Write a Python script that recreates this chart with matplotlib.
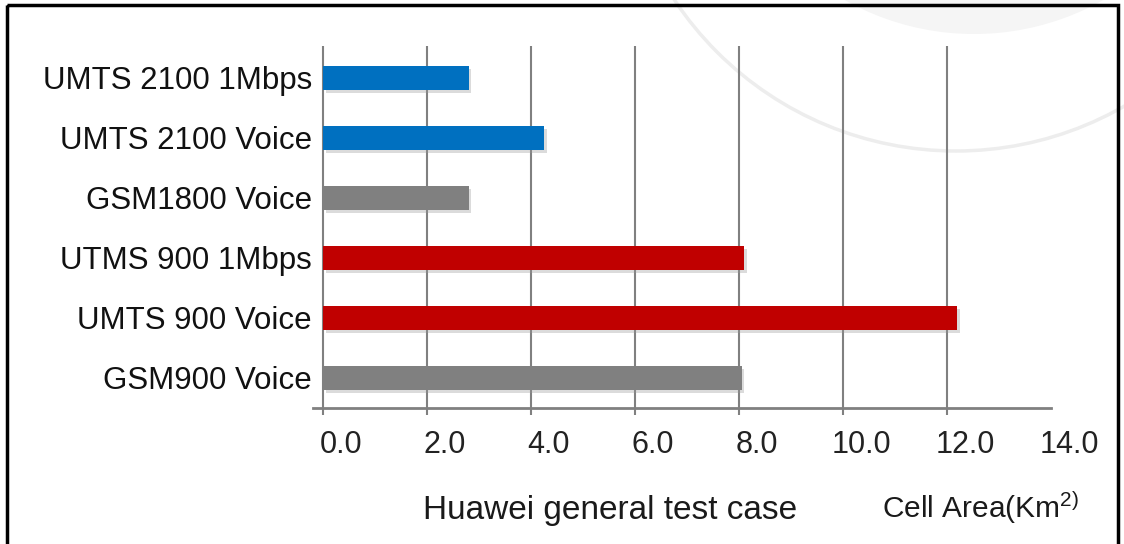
import matplotlib.pyplot as plt
import matplotlib.patheffects as pe
from matplotlib.patches import Circle, Rectangle
from matplotlib.transforms import ScaledTranslation
import numpy as np

plt.rcParams['font.family'] = ['Liberation Sans', 'DejaVu Sans']
plt.rcParams['mathtext.fontset'] = 'custom'
plt.rcParams['mathtext.rm'] = 'Liberation Sans'
plt.rcParams['mathtext.default'] = 'regular'

# Cell area per technology / service (km^2)
cases = ["UMTS 2100 1Mbps", "UMTS 2100 Voice", "GSM1800 Voice",
         "UTMS 900 1Mbps", "UMTS 900 Voice", "GSM900 Voice"]
cell_area = [2.8, 4.25, 2.8, 8.1, 12.2, 8.05]
bar_colors = ["#0070C0", "#0070C0", "#808080", "#C00000", "#C00000", "#808080"]
x_ticks = [0, 2, 4, 6, 8, 10, 12, 14]
x_labels = ["0.0", "2.0", "4.0", "6.0", "8.0", "10.0", "12.0", "14.0"]

W, H = 1124, 544
fig = plt.figure(figsize=(W / 100, H / 100), dpi=100)

# background layer in pixel coordinates: faint watermark circles + frame
bg = fig.add_axes([0, 0, 1, 1], zorder=0)
bg.set_xlim(0, W)
bg.set_ylim(H, 0)
bg.axis("off")
bg.add_patch(Circle((974, -229), 263, facecolor="#f5f5f5", edgecolor="none"))
bg.add_patch(Circle((956, -187), 338, facecolor="none", edgecolor="#ededed", lw=2.5))
bg.add_patch(Rectangle((7, 5), 1111, 560, facecolor="none", edgecolor="black",
                       lw=2.5, clip_on=False))

ax = fig.add_axes([312.6 / W, 136 / H, (1051 - 312.6) / W, (498 - 136) / H], zorder=1)
ax.patch.set_alpha(0)

y = np.arange(len(cases))
bars = ax.barh(y, cell_area, height=0.4, color=bar_colors, zorder=3)
for b in bars:
    b.set_path_effects([pe.SimplePatchShadow(offset=(2, -2), shadow_rgbFace="#999999", alpha=0.35),
                        pe.Normal()])

ax.set_xlim(-0.2, 14)
ax.set_ylim(5.5, -0.53)

ax.set_xticks(x_ticks)
ax.set_xticklabels(x_labels, fontsize=22, color="#222222")
ax.set_yticks(y)
ax.set_yticklabels(cases, fontsize=22.5, color="#111111")
ax.tick_params(axis="y", length=0, pad=0.5)
ax.tick_params(axis="x", length=5, width=1.5, color="#808080", pad=11)

# vertical grid; no line at 14
ax.grid(axis="x", color="#808080", lw=1.5, zorder=1)
ax.set_axisbelow(True)
ax.get_xgridlines()[-1].set_visible(False)
ax.xaxis.get_major_ticks()[-1].tick1line.set_visible(False)

# shift the x tick labels right of their gridlines
shift = ScaledTranslation(0.18, 0, fig.dpi_scale_trans)
for lab in ax.get_xticklabels():
    lab.set_transform(lab.get_transform() + shift)

for side in ["top", "right", "left"]:
    ax.spines[side].set_visible(False)
ax.spines["bottom"].set_color("#808080")
ax.spines["bottom"].set_linewidth(2)

fig.text(610 / W, (H - 519) / H, "Huawei general test case", fontsize=24,
         ha="center", va="baseline", color="#1a1a1a")
fig.text(882 / W, (H - 518) / H, "Cell Area(Km$^{2)}$", fontsize=21.5,
         ha="left", va="baseline", color="#1a1a1a")

fig.savefig("out.png", dpi=100)
